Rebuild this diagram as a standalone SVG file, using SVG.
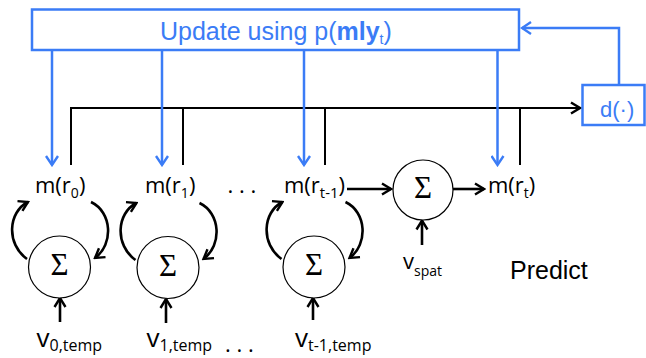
<svg xmlns="http://www.w3.org/2000/svg" width="646" height="358" viewBox="0 0 646 358">
<style>
.blue{stroke:#3b7cf6;stroke-width:2.5;fill:none}
.blk{stroke:#000;stroke-width:2;fill:none}
.bold{stroke:#000;stroke-width:2.6;fill:none}
.sum{stroke:#000;stroke-width:1.2;fill:#fff}
.sig{font-family:"Liberation Serif",serif;font-size:31px;text-anchor:middle;fill:#000}
.lab{font-family:"Open Sans","Noto Sans",sans-serif;font-size:22px;fill:#000}
.vt{font-family:"Open Sans","Noto Sans",sans-serif;font-size:26px;fill:#000}
.bt{font-family:"Liberation Sans",Arial,sans-serif;fill:#3b7cf6}
</style>
<defs>
<marker id="ab" markerUnits="userSpaceOnUse" markerWidth="14" markerHeight="14" viewBox="0 0 14 14" refX="12" refY="7" orient="auto">
<path d="M3,1.5 L12,7 L3,12.5" fill="none" stroke="#000" stroke-width="2.4"/>
</marker>
<marker id="au" markerUnits="userSpaceOnUse" markerWidth="14" markerHeight="14" viewBox="0 0 14 14" refX="12" refY="7" orient="auto">
<path d="M3,1 L12,7 L3,13" fill="none" stroke="#3b7cf6" stroke-width="2.4"/>
</marker>
</defs>
<rect width="646" height="358" fill="#fff"/>
<g id="connectors">
<path class="blk" d="M71,165 V108 H580" marker-end="url(#ab)"/>
<path class="blk" d="M183,108 V165"/>
<path class="blk" d="M325,108 V165"/>
<path class="blk" d="M520,108 V165"/>
<path class="blue" d="M52,50 V165" marker-end="url(#au)"/>
<path class="blue" d="M162,50 V165" marker-end="url(#au)"/>
<path class="blue" d="M304,50 V165" marker-end="url(#au)"/>
<path class="blue" d="M497.5,50 V165" marker-end="url(#au)"/>
<path class="blue" d="M619,85 V28 H522" marker-end="url(#au)"/>
<path class="bold" d="M27,259 C6,244 8,212 28,202" marker-end="url(#ab)"/>
<path class="bold" d="M91,202 C112,212 114,244 95,258" marker-end="url(#ab)"/>
<path class="bold" d="M135.5,260 C114.5,245 116.5,213 136.5,203" marker-end="url(#ab)"/>
<path class="bold" d="M199.5,203 C220.5,213 222.5,245 203.5,259" marker-end="url(#ab)"/>
<path class="bold" d="M281.5,259 C260.5,244 262.5,212 282.5,202" marker-end="url(#ab)"/>
<path class="bold" d="M345.5,202 C366.5,212 368.5,244 349.5,258" marker-end="url(#ab)"/>
<path class="bold" d="M60,322 V298" marker-end="url(#ab)"/>
<path class="bold" d="M166,323 V299" marker-end="url(#ab)"/>
<path class="bold" d="M313,320 V298" marker-end="url(#ab)"/>
<path class="bold" d="M422,245 V220.5" marker-end="url(#ab)"/>
<path class="bold" d="M347,189 H391" marker-end="url(#ab)"/>
<path class="bold" d="M453,189 H484" marker-end="url(#ab)"/>
</g>
<g id="update">
<rect x="32" y="9.5" width="487" height="40.5" fill="#fff" stroke="#3b7cf6" stroke-width="2.5"/>
<text class="bt" x="160" y="39.5" font-size="25">Update using p(<tspan font-weight="bold">mly</tspan><tspan font-size="14" dy="4">t</tspan><tspan dy="-4">)</tspan></text>
</g>
<g id="d">
<rect x="582.5" y="85" width="62" height="40" fill="#fff" stroke="#3b7cf6" stroke-width="2.5"/>
<text class="bt" x="600" y="116.5" font-size="22">d(·)</text>
</g>
<g id="m0"><text class="lab" x="35" y="193">m(r<tspan font-size="14" dy="5">0</tspan><tspan dy="-5">)</tspan></text></g>
<g id="m1"><text class="lab" x="145" y="193">m(r<tspan font-size="14" dy="5">1</tspan><tspan dy="-5">)</tspan></text></g>
<g id="dots1"><text class="lab" x="227.5" y="193">. . .</text></g>
<g id="mt1"><text class="lab" x="284" y="193">m(r<tspan font-size="15" dy="5">t-1</tspan><tspan dy="-5">)</tspan></text></g>
<g id="mt"><text class="lab" x="488" y="193">m(r<tspan font-size="14" dy="5">t</tspan><tspan dy="-5">)</tspan></text></g>
<g id="sum0"><circle class="sum" cx="59.5" cy="267" r="31"/><text class="sig" x="59.5" y="275">Σ</text></g>
<g id="sum1"><circle class="sum" cx="168" cy="267.5" r="31"/><text class="sig" x="168" y="275.5">Σ</text></g>
<g id="sum2"><circle class="sum" cx="314" cy="267" r="31"/><text class="sig" x="314" y="275">Σ</text></g>
<g id="sumspat"><circle class="sum" cx="423" cy="190" r="30"/><text class="sig" x="423" y="198">Σ</text></g>
<g id="v0"><text class="vt" x="36.5" y="347">v<tspan font-size="16" dy="4">0,temp</tspan></text></g>
<g id="v1"><text class="vt" x="146.5" y="347">v<tspan font-size="16" dy="4">1,temp</tspan></text></g>
<g id="dots2"><text class="lab" x="225" y="352">. . .</text></g>
<g id="vt1"><text class="vt" x="295" y="347">v<tspan font-size="16" dy="4">t-1,temp</tspan></text></g>
<g id="vspat"><text class="lab" x="403" y="269" font-size="20">v<tspan font-size="14" dy="7">spat</tspan></text></g>
<g id="predict"><text x="510" y="279" font-family="'Liberation Sans',Arial,sans-serif" font-size="25" fill="#000">Predict</text></g>
</svg>
